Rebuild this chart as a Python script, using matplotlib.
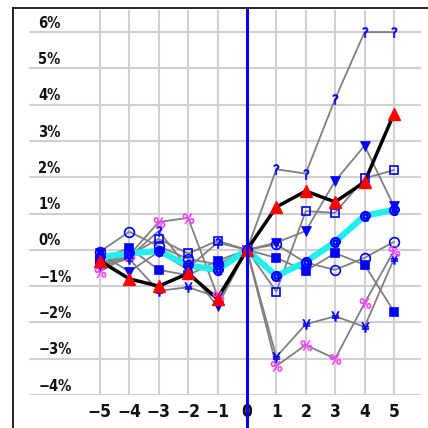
import matplotlib
matplotlib.use('Agg')
import matplotlib.pyplot as plt
from matplotlib.lines import Line2D

# 日付（イベント前後）
days = [-5, -4, -3, -2, -1, 0, 1, 2, 3, 4, 5]
ylabels = ['6%', '5%', '4%', '3%', '2%', '1%', '0%', '-1%', '-2%', '-3%', '-4%']
yticks = [6, 5, 4, 3, 2, 1, 0, -1, -2, -3, -4]

# 各銘柄の騰落率（%）
s_tri = [-0.3, -0.8, -1.0, -0.65, -1.35, 0, 1.18, 1.62, 1.32, 1.87, 3.75]
s_avg = [-0.2, -0.1, -0.03, -0.43, -0.55, 0, -0.72, -0.33, 0.22, 0.94, 1.1]
s_dtri = [-0.1, -0.6, -0.05, -0.55, -1.55, 0, 0.2, 0.52, 1.9, 2.87, 1.2]
s_sq = [-0.25, 0.05, -0.55, -0.7, -0.3, 0, -0.22, -0.58, -0.09, -0.41, -1.7]
s_osq = [-0.35, -0.15, 0.3, -0.1, 0.25, 0, -1.15, 1.07, 1.02, 1.97, 2.2]
s_circ = [-0.05, 0.5, 0.1, -0.25, -0.4, 0, 0.15, -0.35, -0.55, -0.22, 0.22]
s_q = [-0.4, -0.2, 0.52, -0.5, 0.2, 0, 2.22, 2.1, 4.16, 6.0, 6.0]
s_yen = [-0.45, -0.25, -1.13, -1.03, -1.3, 0, -2.95, -2.05, -1.83, -2.12, -0.25]
s_pct = [-0.6, -0.15, 0.77, 0.88, -1.27, 0, -3.2, -2.62, -3.0, -1.47, -0.03]

fnt = ['DejaVu Sans']

fig = plt.figure(figsize=(4.28, 4.28), dpi=100)
ax = fig.add_axes([29 / 428, 1 - 395 / 428, 392 / 428, 385 / 428])
ax.set_xlim(-7.41, 5.92)
ax.set_ylim(-4, 6.61)
for s in ax.spines.values():
    s.set_visible(False)
ax.set_xticks([])
ax.set_yticks([])

# グリッド
for y in yticks:
    ax.axhline(y, color='#d0d0d0', lw=1.5, zorder=0)
for x in days:
    if x != 0:
        ax.axvline(x, color='#d0d0d0', lw=1.5, zorder=0)

# 目盛りラベル
for y, lab in zip(yticks, ylabels):
    ax.text(-7.1, y + 0.04, lab.replace('-', '\u2212'), ha='left', va='bottom',
            fontsize=10.5, fontweight='bold', family=fnt, stretch='condensed',
            color='#111111')
for x in days:
    ax.text(x, -4.22, str(x).replace('-', '\u2212'), ha='center', va='top',
            fontsize=12.5, fontweight='bold', family=fnt, stretch='condensed',
            color='#111111', clip_on=False)

gray = '#808080'
blue = '#0000ff'
others = [
    (s_dtri, 'v', blue, 7),
    (s_sq, 's', blue, 6),
    (s_osq, 's', 'none', 6),
    (s_circ, 'o', 'none', 7),
    (s_q, '$?$', blue, 7),
    (s_yen, '$¥$', blue, 7),
    (s_pct, r'$\%$', '#ff44ff', 8),
]
for data, m, fc, ms in others:
    ax.plot(days, data, color=gray, lw=1.3, zorder=2)

ax.plot(days, s_avg, color='#22eeee', lw=4.5, zorder=3)
ax.plot(days, s_tri, color='black', lw=2.5, zorder=4)

for data, m, fc, ms in others:
    ec = '#ff44ff' if fc == '#ff44ff' else blue
    ax.plot(days, data, ls='none', marker=m, ms=ms, mfc=fc, mec=ec,
            mew=1.2 if m in ('s', 'o') else 0.5, zorder=5)
ax.plot(days, s_avg, ls='none', marker='$@$', ms=7, color=blue, zorder=5)
ax.plot(days, s_tri, ls='none', marker='^', ms=8, color='#ff0000', zorder=6)

# 基準日の縦線
ax.plot([0, 0], [-0.09, 1], color='#0000ee', lw=2.2,
        transform=ax.get_xaxis_transform(), clip_on=False, zorder=7)

# 外枠
fig.add_artist(Line2D([13 / 428, 13 / 428], [0, 1 - 8 / 428], color='black', lw=1.2))
fig.add_artist(Line2D([13 / 428, 1], [1 - 8 / 428, 1 - 8 / 428], color='black', lw=1.2))

plt.savefig('out.png', dpi=100)
